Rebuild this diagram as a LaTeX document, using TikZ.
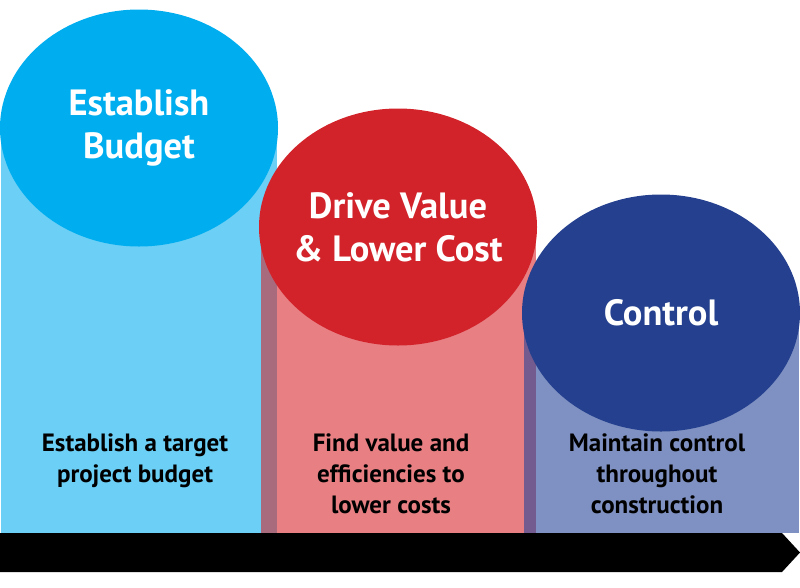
\documentclass[tikz,border=0pt]{standalone}
\usepackage{fontspec}
\setmainfont{PT Sans}
\usetikzlibrary{shapes.geometric}

\definecolor{budgetblue}{HTML}{00AEEF}
\definecolor{budgetlight}{HTML}{6BCFF6}
\definecolor{valuered}{HTML}{D2232A}
\definecolor{valuelight}{HTML}{E77F83}
\definecolor{valueshade}{HTML}{A86B7E}
\definecolor{controlblue}{HTML}{24408E}
\definecolor{controllight}{HTML}{7F91C2}
\definecolor{controlshade}{HTML}{735B8F}

\tikzset{
	bubble/.style={ellipse, minimum width=278pt, minimum height=237pt, inner sep=0pt},
	title/.style={inner sep=0pt, text=white, align=center, font=\bfseries\fontsize{36.5}{43}\selectfont},
	caption/.style={anchor=north, inner sep=0pt, text=black, align=center, font=\bfseries\fontsize{25}{31}\selectfont}
}

\begin{document}
\begin{tikzpicture}[x=1pt,y=-1pt]
					\useasboundingbox (0,0) rectangle (800,587);

					\fill [budgetlight] (1,128) rectangle (277,533);
					\node [bubble, fill=budgetblue] (budget) at (139,128) {};
					\node [title] (budgettitle) at (budget.center) {Establish\\Budget};

					\fill [valuelight] (261,227) rectangle (536,533);
					\fill [valueshade] (261,227) rectangle (277,533);
					\node [bubble, fill=valuered] (value) at (398,227) {};
					\node [title] (valuetitle) at (value.center) {Drive Value\\\& Lower Cost};

					\fill [controllight] (524,313) rectangle (799,533);
					\fill [controlshade] (524,313) rectangle (536,533);
					\node [bubble, fill=controlblue] (control) at (661,313) {};
					\node [title] (controltitle) at (control.center) {Control};

					\node [caption] (budgettext) at (135,434) {Establish a target\\project budget};
					\node [caption] (valuetext) at (391,434) {Find value and\\efficiencies to\\lower costs};
					\node [caption] (controltext) at (657,434) {Maintain control\\throughout\\construction};

					\fill [black] (0,533) -- (782,533) -- (800,552.5) -- (782,572) -- (0,572) -- cycle;
				\end{tikzpicture}
\end{document}
